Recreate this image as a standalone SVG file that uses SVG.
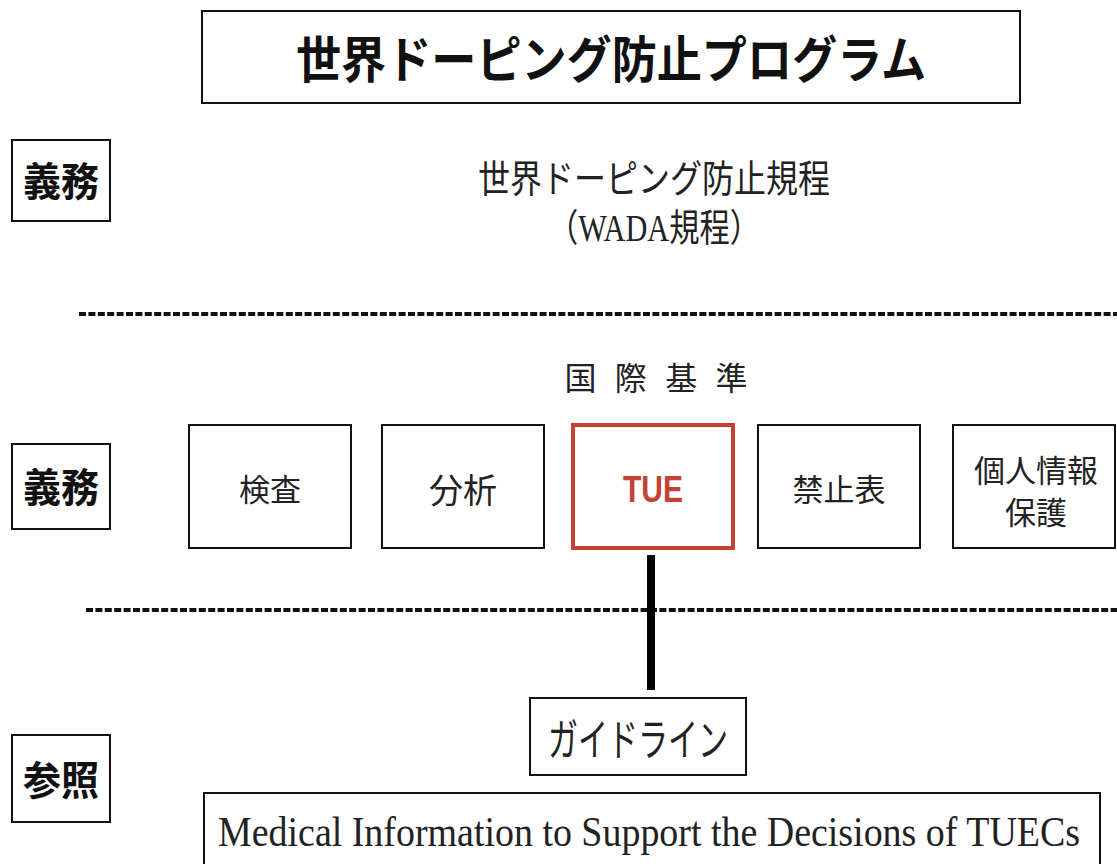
<svg xmlns="http://www.w3.org/2000/svg" width="1117" height="864" viewBox="0 0 1117 864">
<style>
.box{fill:#fff;stroke:#111;stroke-width:2}
.red{fill:#fff;stroke:#c44233;stroke-width:4}
.jp{font-family:"Noto Sans CJK JP","Noto Sans CJK SC",sans-serif;fill:#222;text-anchor:middle}
.jpb{font-family:"Noto Sans CJK JP","Noto Sans CJK SC",sans-serif;font-weight:bold;fill:#111;text-anchor:middle}
.serif{font-family:"Liberation Serif","Noto Sans CJK JP",serif;fill:#222;text-anchor:middle}
.dash{stroke:#111;stroke-width:4;stroke-dasharray:7 2.4;fill:none}
</style>
<rect width="1117" height="864" fill="#fff"/>
<g id="title">
<rect class="box" x="202" y="11" width="818" height="92"/>
<text class="jpb" x="611" y="78" font-size="50" textLength="630" lengthAdjust="spacingAndGlyphs">世界ドーピング防止プログラム</text>
</g>
<g id="gimu1">
<rect class="box" x="12" y="140" width="98" height="81"/>
<text class="jpb" x="61" y="196" font-size="40" textLength="76" lengthAdjust="spacingAndGlyphs">義務</text>
</g>
<g id="code">
<text class="jp" x="654" y="192" font-size="38" textLength="352" lengthAdjust="spacingAndGlyphs">世界ドーピング防止規程</text>
<text class="serif" x="654" y="241" font-size="38" textLength="212" lengthAdjust="spacingAndGlyphs">（WADA規程）</text>
</g>
<g id="kokusai">
<text class="jp" x="656" y="390" font-size="32" textLength="183" lengthAdjust="spacing">国際基準</text>
</g>
<g id="gimu2">
<rect class="box" x="12" y="444" width="98" height="85"/>
<text class="jpb" x="61" y="502" font-size="40" textLength="76" lengthAdjust="spacingAndGlyphs">義務</text>
</g>
<g id="kensa">
<rect class="box" x="189" y="425" width="162" height="123"/>
<text class="jp" x="270" y="501" font-size="31">検査</text>
</g>
<g id="bunseki">
<rect class="box" x="382" y="425" width="162" height="123"/>
<text class="jp" x="463" y="503" font-size="34">分析</text>
</g>
<g id="tue">
<rect class="red" x="573" y="425" width="160" height="123"/>
<text x="653" y="502" font-size="36" font-weight="bold" font-family="Liberation Sans,Arial,sans-serif" fill="#c44233" text-anchor="middle" textLength="60" lengthAdjust="spacingAndGlyphs">TUE</text>
</g>
<g id="kinshi">
<rect class="box" x="758" y="425" width="162" height="123"/>
<text class="jp" x="839" y="501" font-size="31">禁止表</text>
</g>
<g id="kojin">
<rect class="box" x="953" y="425" width="162" height="123"/>
<text class="jp" x="1036" y="482" font-size="31">個人情報</text>
<text class="jp" x="1036" y="524" font-size="31">保護</text>
</g>
<g id="connectors">
<line class="dash" x1="79" y1="314" x2="1117" y2="314"/>
<line class="dash" x1="86" y1="610" x2="1117" y2="610"/>
<line x1="651" y1="555" x2="651" y2="690" stroke="#000" stroke-width="8"/>
</g>
<g id="guideline">
<rect class="box" x="530" y="698" width="216" height="77"/>
<text class="jp" x="638" y="756" font-size="44" textLength="180" lengthAdjust="spacingAndGlyphs">ガイドライン</text>
</g>
<g id="sansho">
<rect class="box" x="12" y="735" width="98" height="87"/>
<text class="jpb" x="61" y="795" font-size="40" textLength="76" lengthAdjust="spacingAndGlyphs">参照</text>
</g>
<g id="medical">
<path class="box" d="M204,864 V793 H1100 V864"/>
<text class="serif" x="649" y="846" font-size="42" textLength="862" lengthAdjust="spacingAndGlyphs">Medical Information to Support the Decisions of TUECs</text>
</g>
</svg>
